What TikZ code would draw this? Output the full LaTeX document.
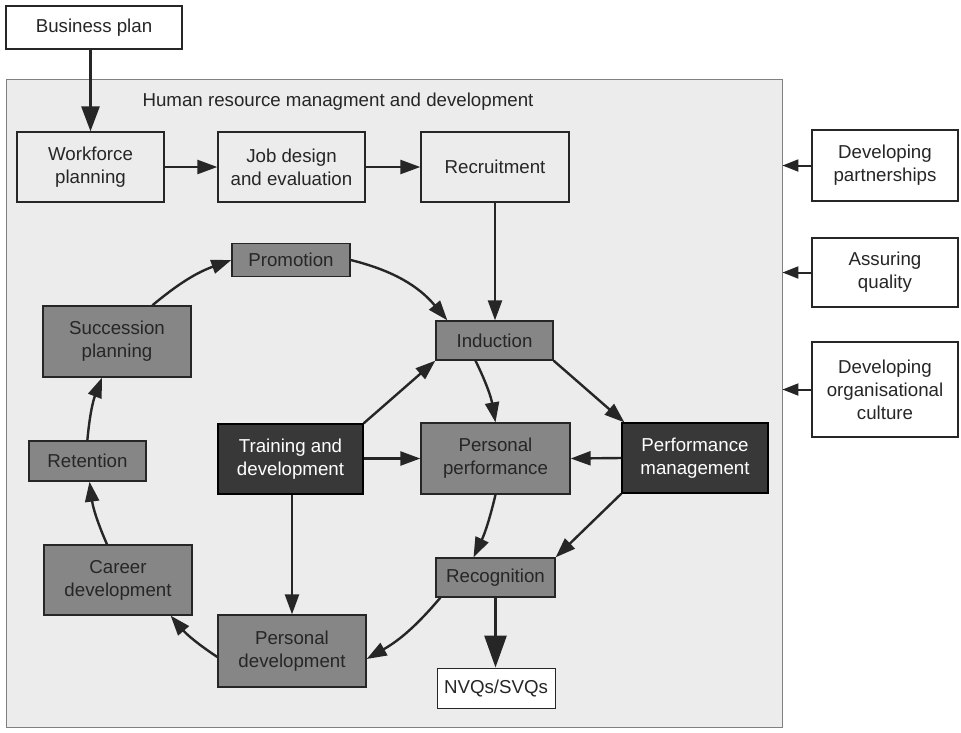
\documentclass[tikz,border=0pt]{standalone}
\usepackage{fontspec}
\setmainfont{Liberation Sans}
\usetikzlibrary{arrows.meta}
\definecolor{bg}{RGB}{236,236,236}
\definecolor{midg}{RGB}{134,134,134}
\definecolor{darkg}{RGB}{56,56,56}
\definecolor{ink}{RGB}{38,38,38}
\begin{document}
\begin{tikzpicture}[x=1pt,y=-1pt,
  every node/.style={font=\fontsize{18.7}{23}\selectfont, inner sep=0pt, align=center, text=ink},
  lightbox/.style={draw=ink, fill=bg, line width=1.3pt},
  whitebox/.style={draw=ink, fill=white, line width=1.3pt},
  midbox/.style={draw=ink, fill=midg, line width=1.3pt, text=ink},
  darkbox/.style={draw=black, fill=darkg, line width=1.3pt, text=white},
  arr/.style={draw=ink, line width=2.4pt, -{Triangle[length=20pt,width=14pt]}},
  bigarr/.style={draw=ink, line width=2.8pt, -{Triangle[length=25pt,width=18pt]}},
  hugearr/.style={draw=ink, line width=2.8pt, -{Triangle[length=32pt,width=22pt]}},
  sidearr/.style={draw=ink, line width=2pt, -{Triangle[length=16pt,width=12pt]}},
]
\useasboundingbox (0,0) rectangle (961,732);
\fill[white] (0,0) rectangle (961,732);
% main area
\node[draw=gray, fill=bg, line width=0.9pt, minimum width=776pt, minimum height=648pt] (hrm) at (394,403) {};
\node (title) at (338,102) {Human resource managment and development};

% outside boxes
\node[whitebox, minimum width=176pt, minimum height=43pt] (bp) at (94,27.5) {Business plan};
\node[whitebox, minimum width=146pt, minimum height=71pt] (dp) at (885,165.5) {Developing\\partnerships};
\node[whitebox, minimum width=146pt, minimum height=69pt] (aq) at (885,272.5) {Assuring\\quality};
\node[whitebox, minimum width=146pt, minimum height=95pt] (doc) at (885,389.5) {Developing\\organisational\\culture};

% top row
\node[lightbox, minimum width=147pt, minimum height=70pt] (wp) at (90.5,167) {Workforce\\planning};
\node[lightbox, minimum width=147pt, minimum height=70pt] (jd) at (291.5,167) {Job design\\and evaluation};
\node[lightbox, minimum width=148pt, minimum height=70pt] (rec) at (495,167) {Recruitment};

% cycle
\node[midbox, minimum width=118pt, minimum height=33pt] (prom) at (291,260) {Promotion};
\node[midbox, minimum width=148pt, minimum height=71pt] (succ) at (117,341.5) {Succession\\planning};
\node[midbox, minimum width=117pt, minimum height=39pt] (ind) at (494.5,340.5) {Induction};
\node[midbox, minimum width=117pt, minimum height=40pt] (ret) at (87.5,461) {Retention};
\node[darkbox, minimum width=145pt, minimum height=70pt] (td) at (290.5,459) {Training and\\development};
\node[midbox, minimum width=149pt, minimum height=71pt] (pp) at (495.5,458.5) {Personal\\performance};
\node[darkbox, minimum width=146pt, minimum height=70pt] (pm) at (695,458) {Performance\\management};
\node[midbox, minimum width=148pt, minimum height=70pt] (cd) at (118,580) {Career\\development};
\node[midbox, minimum width=148pt, minimum height=72pt] (pd) at (292,651) {Personal\\development};
\node[midbox, minimum width=119pt, minimum height=39pt] (recog) at (495.5,577.5) {Recognition};
\node[lightbox, fill=white, line width=0.9pt, minimum width=118pt, minimum height=40pt] (nvq) at (496,688) {NVQs/SVQs};

% connectors
\draw[bigarr] (bp.south -| wp.north) -- (wp.north);
\draw[arr] (wp) -- (jd);
\draw[arr] (jd) -- (rec);
\draw[arr] (rec.south) -- (rec.south |- ind.north);

\draw[sidearr] (dp.west) -- (dp.west -| hrm.east);
\draw[sidearr] (aq.west) -- (aq.west -| hrm.east);
\draw[sidearr] (doc.west) -- (doc.west -| hrm.east);

\draw[arr] (prom.east) to[bend left=18] ([xshift=12pt]ind.north west);
\draw[arr] ([xshift=110pt]succ.north west) to[bend left=10] (prom.west);
\draw[arr] ([xshift=59pt]ret.north west) to[bend left=8] ([xshift=-15pt]succ.south);
\draw[arr] ([xshift=-11pt]cd.north) to[bend left=8] ([xshift=2pt]ret.south);
\draw[arr] ([yshift=-6pt]pd.west) to[bend left=8] ([xshift=-22pt]cd.south east);
\draw[arr] ([xshift=5pt]recog.south west) to[bend left=10] ([yshift=-8pt]pd.east);
\draw[hugearr] (recog.south) -- (recog.south |- nvq.north);

\draw[arr] (td.north east) -- (ind.south west);
\draw[arr] (td.east |- pp.west) -- (pp.west);
\draw[arr] ([xshift=1.5pt]td.south) -- ([xshift=1.5pt]td.south |- pd.north);
\draw[arr] ([xshift=-19pt]ind.south) to[bend left=8] (pp.north);
\draw[arr] (ind.south east) -- ([xshift=3pt]pm.north west);
\draw[arr] (pm.west) -- (pp.east);
\draw[arr] (pp.south) to[bend left=6] ([xshift=-22pt]recog.north);
\draw[arr] (pm.south west) -- (recog.north east);
\end{tikzpicture}
\end{document}
